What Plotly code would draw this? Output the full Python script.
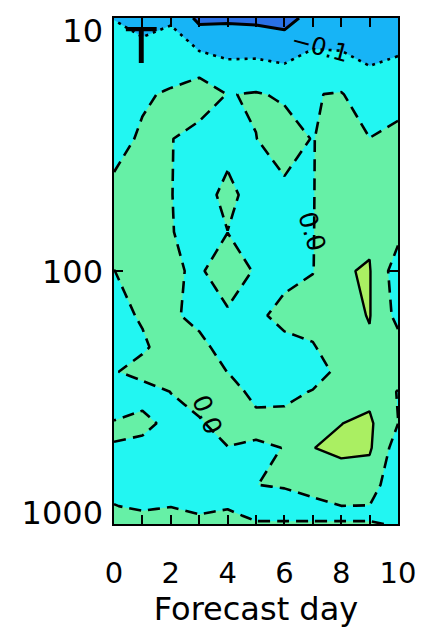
import plotly.graph_objects as go

# ---- data -------------------------------------------------------------
days = [0, 1, 2, 3, 4, 5, 6, 7, 8, 9, 10]
pressure = [10, 20, 30, 50, 70, 100, 150, 200, 250, 300, 400, 500, 700, 850, 925, 1000]

z_p10   = [-0.102, -0.13, -0.112, -0.224, -0.215, -0.221, -0.235, -0.167, -0.179, -0.185, -0.16]
z_p20   = [-0.03, -0.01, 0.01, 0.062, -0.003, 0.006, -0.01, -0.003, 0.005, -0.05, -0.04]
z_p30   = [-0.025, 0.01, 0.004, -0.04, -0.04, -0.001, 0.03, -0.003, 0.04, 0.001, 0.027]
z_p50   = [0.017, 0.03, 0.003, -0.047, 0.03, -0.047, -0.015, -0.003, 0.05, 0.06, 0.04]
z_p70   = [0.03, 0.04, 0.005, -0.04, -0.001, -0.04, -0.03, -0.003, 0.06, 0.088, 0.03]
z_p100  = [-0.001, 0.03, 0.009, -0.0094, 0.04, -0.007, -0.03, -0.003, 0.095, 0.105, -0.056]
z_p150  = [-0.02, 0.007, 0.011, -0.02, -0.0094, -0.02, 0.03, 0.04, 0.072, 0.104, -0.03]
z_p200  = [-0.02, -0.01, 0.03, 0.02, -0.03, -0.04, -0.03, -0.008, 0.06, 0.089, 0.04]
z_p250  = [-0.005, 0.025, 0.04, 0.03, -0.001, -0.04, -0.04, -0.05, 0.03, 0.07, 0.05]
z_p300  = [-0.03, -0.03, 0.001, 0.03, 0.045, -0.03, -0.03, 0.006, 0.06, 0.075, -0.005]
z_p400  = [0.003, 0.02, -0.02, -0.008, 0.03, 0.03, 0.035, 0.07, 0.099, 0.115, 0.001]
z_p500  = [-0.001, -0.02, -0.03, -0.02, -0.002, -0.015, 0.002, 0.099, 0.112, 0.112, -0.05]
z_p700  = [-0.02, -0.03, -0.03, -0.04, -0.04, -0.001, 0.012, 0.097, 0.07, 0.05, -0.08]
z_p850  = [0.002, -0.01, -0.002, -0.02, -0.005, -0.03, -0.06, -0.07, -0.001, -0.002, -0.05]
z_p925  = [0.02, 0.01, 0.02, 0.003, 0.01, -0.01, -0.01, -0.01, -0.01, -0.01, -0.02]
z_p1000 = [0.02, 0.02, 0.02, 0.02, 0.02, 0.005, 0.005, 0.005, 0.005, 0.005, -0.005]

z = [z_p10, z_p20, z_p30, z_p50, z_p70, z_p100, z_p150, z_p200, z_p250,
     z_p300, z_p400, z_p500, z_p700, z_p850, z_p925, z_p1000]

levels = [-0.2, -0.1, 0.0, 0.1]
level_dash = ["solid", "3px,5px", "12px,7px", "solid"]
level_width = [3.0, 2.6, 2.6, 2.4]
band_colors = ["#2A70E6", "#17B4F6", "#22F6F2", "#66F0A6", "#AAEF62"]

y_tick_vals = [10, 100, 1000]
y_tick_text = ["10", "100", "1000"]
x_tick_vals = [0, 2, 4, 6, 8, 10]

# ---- figure ------------------------------------------------------------
fig = go.Figure()

n = len(band_colors)
colorscale = [[i / (n - 1), c] for i, c in enumerate(band_colors)]
fig.add_trace(go.Contour(
    x=days, y=pressure, z=z,
    contours=dict(start=levels[0], end=levels[-1], size=0.1,
                  coloring="fill", showlines=False),
    colorscale=colorscale, showscale=False,
    line=dict(width=0, smoothing=0),
    hoverinfo="skip",
))

for lev, dash, w in zip(levels, level_dash, level_width):
    fig.add_trace(go.Contour(
        x=days, y=pressure, z=z,
        contours=dict(start=lev, end=lev, size=1, coloring="none"),
        line=dict(color="black", width=w, dash=dash, smoothing=0),
        showscale=False, hoverinfo="skip",
    ))

# invisible trace carrying the label axis
fig.add_trace(go.Scatter(x=[None], y=[None], yaxis="y2", showlegend=False,
                         hoverinfo="skip"))

font_main = "DejaVu Sans"

fig.update_layout(
    width=436, height=630,
    margin=dict(l=114, r=38, t=13, b=103),
    paper_bgcolor="white", plot_bgcolor="white",
    showlegend=False,
    xaxis=dict(
        range=[0, 10], tickvals=x_tick_vals,
        ticks="inside", ticklen=9, tickwidth=1.5, tickcolor="black",
        minor=dict(dtick=1, ticks="inside", ticklen=9, tickwidth=1.5, tickcolor="black"),
        showline=True, linewidth=2, linecolor="black", mirror="allticks",
        showgrid=False, zeroline=False,
        tickfont=dict(family=font_main, size=29, color="black"),
        ticklabelstandoff=22,
        title=dict(text="Forecast day", font=dict(family=font_main, size=32, color="black"),
                   standoff=6),
    ),
    yaxis=dict(
        type="log", range=[3, 1], tickvals=y_tick_vals, showticklabels=False,
        ticks="inside", ticklen=9, tickwidth=1.5, tickcolor="black",
        showline=True, linewidth=2, linecolor="black", mirror="allticks",
        showgrid=False, zeroline=False,
    ),
    yaxis2=dict(
        overlaying="y", side="left", type="log", range=[3.045, 0.947],
        tickvals=y_tick_vals, ticktext=y_tick_text, ticks="",
        showline=False, showgrid=False, zeroline=False,
        tickfont=dict(family=font_main, size=32, color="black"),
        ticklabelstandoff=10,
    ),
    annotations=[
        dict(text="T", xref="paper", yref="paper", x=0.095, y=0.945,
             xanchor="center", yanchor="middle",
             showarrow=False, font=dict(family=font_main, size=50, color="black")),
        dict(text="\u22120.1", xref="x", yref="paper", x=7.25, y=0.9436, textangle=15,
             xanchor="center", yanchor="middle",
             showarrow=False, font=dict(family=font_main, size=24, color="black")),
        dict(text="0.0", xref="x", yref="paper", x=6.97, y=0.578, textangle=73,
             xanchor="center", yanchor="middle",
             showarrow=False, font=dict(family=font_main, size=25, color="black")),
        dict(text="0.0", xref="x", yref="paper", x=3.27, y=0.216, textangle=68,
             xanchor="center", yanchor="middle",
             showarrow=False, font=dict(family=font_main, size=25, color="black")),
    ],
)

fig.write_html("out.html")
